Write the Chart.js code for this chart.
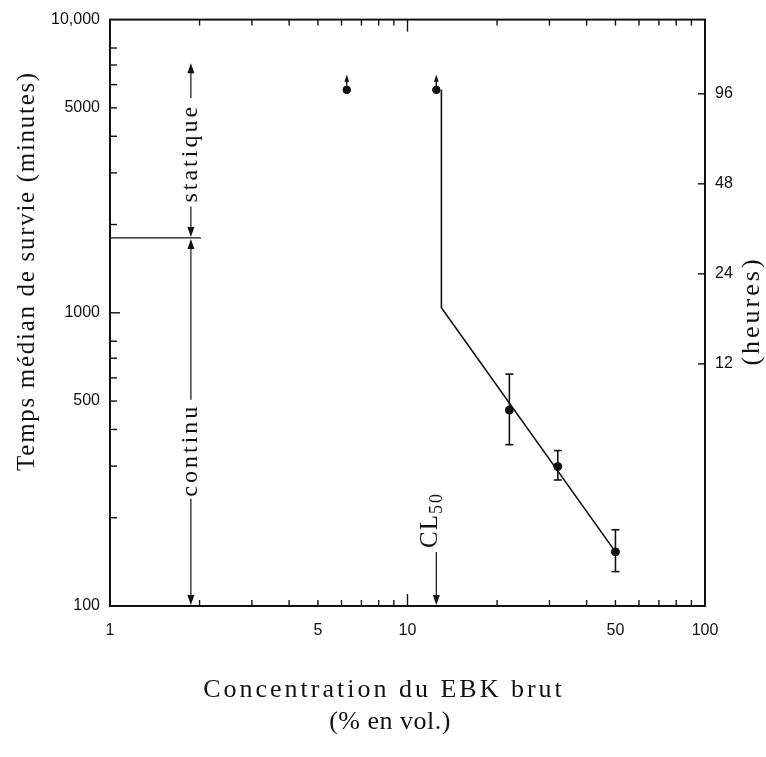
<!DOCTYPE html>
<html>
<head>
<meta charset="utf-8">
<script src="https://cdn.jsdelivr.net/npm/chart.js@4.4.1/dist/chart.umd.min.js"></script>
<style>
  html, body { margin: 0; padding: 0; background: #fff; }
</style>
</head>
<body>
<canvas id="ebkChart" width="766" height="757"></canvas>
<script>
// median survival time (minutes) vs concentration of crude EBK (% vol.)
const concentrations = [22, 32, 50];
const medianMinutes = [466, 299, 153];
const lowerMinutes = [355, 269, 131];
const upperMinutes = [618, 339, 182];

// fish still alive at the end of the test (> 96 h)
const survivorConc = [6.25, 12.5];
const survivorMinutes = [5760, 5760];

// fitted line
const fitConc = [13, 13, 50];
const fitMinutes = [5760, 1040, 153];

// tick labels
const xTickValues = [1, 5, 10, 50, 100];
const yTickValues = [100, 500, 1000, 5000, 10000];
const hourTickValues = [96, 48, 24, 12];
const hourMin = 1.86, hourMax = 170;

// annotations (data units)
const cl50 = 12.5;
const cl50LabelMinutes = 195;
const switchMinutes = 1800;      // static -> continuous (30 h)
const switchConc = 1.87;
const switchLineEnd = 2.02;
const staticTopMinutes = 7100;
const staticLabelMinutes = 3500;
const continuLabelMinutes = 340;

const INK = '#111';
const SERIF = '"Liberation Serif", "Times New Roman", serif';
const tickFont = { family: '"Liberation Sans", Arial, sans-serif', size: 16 };

function vText(ctx, str, cx, cy, size, spacing) {
    ctx.save();
    ctx.translate(cx, cy);
    ctx.rotate(-Math.PI / 2);
    ctx.font = size + 'px ' + SERIF;
    ctx.letterSpacing = spacing + 'px';
    ctx.textAlign = 'center';
    ctx.textBaseline = 'middle';
    ctx.fillText(str, 0, 0);
    const w = ctx.measureText(str).width;
    ctx.restore();
    return w;
}

function hText(ctx, str, cx, cy, size, spacing) {
    ctx.save();
    ctx.font = size + 'px ' + SERIF;
    ctx.letterSpacing = spacing + 'px';
    ctx.textAlign = 'center';
    ctx.textBaseline = 'middle';
    ctx.fillText(str, cx, cy);
    ctx.restore();
}

function arrowHead(ctx, x, y, dir, len, half) {
    // dir 1 = pointing down, -1 = pointing up
    len = len || 10; half = half || 3.5;
    ctx.beginPath();
    ctx.moveTo(x, y);
    ctx.lineTo(x - half, y - dir * len);
    ctx.lineTo(x + half, y - dir * len);
    ctx.closePath();
    ctx.fill();
}

function line(ctx, x1, y1, x2, y2) {
    ctx.beginPath();
    ctx.moveTo(x1, y1);
    ctx.lineTo(x2, y2);
    ctx.stroke();
}

const figurePlugin = {
    id: 'figure',
    afterDatasetsDraw(chart) {
        const ctx = chart.ctx;
        const area = chart.chartArea;
        const xs = chart.scales.x, ys = chart.scales.y, hs = chart.scales.yh;
        const X = v => xs.getPixelForValue(v);
        const Y = v => ys.getPixelForValue(v);

        ctx.save();
        ctx.strokeStyle = INK;
        ctx.fillStyle = INK;

        // frame
        ctx.lineWidth = 2;
        ctx.strokeRect(area.left, area.top, area.right - area.left, area.bottom - area.top);

        // inward ticks
        ctx.lineWidth = 1.4;
        [1, 10].forEach(d => {
            for (let m = 1; m <= 9; m++) {
                const v = m * d;
                if (v <= 1 || v >= 100) continue;
                const px = X(v);
                const len = m === 1 ? 12 : 6;
                line(ctx, px, area.bottom, px, area.bottom - len);
                line(ctx, px, area.top, px, area.top + len);
            }
        });
        [100, 1000].forEach(d => {
            for (let m = 1; m <= 8; m++) {
                const v = m * d;
                if (v <= 100 || v >= 10000) continue;
                const py = Y(v);
                line(ctx, area.left, py, area.left + (m === 1 ? 10 : 7), py);
            }
        });
        hourTickValues.forEach(h => {
            const py = hs.getPixelForValue(h);
            line(ctx, area.right, py, area.right - 7, py);
        });

        // error bars
        ctx.lineWidth = 1.6;
        concentrations.forEach((c, i) => {
            const px = X(c), lo = Y(lowerMinutes[i]), hi = Y(upperMinutes[i]);
            line(ctx, px, lo, px, hi);
            line(ctx, px - 4, lo, px + 4, lo);
            line(ctx, px - 4, hi, px + 4, hi);
        });

        // survivors: small up arrows
        ctx.lineWidth = 1.4;
        survivorConc.forEach((c, i) => {
            const px = X(c), py = Y(survivorMinutes[i]);
            line(ctx, px, py - 4, px, py - 9);
            arrowHead(ctx, px, py - 15, -1, 7, 2.4);
        });

        // statique / continu regime
        ctx.lineWidth = 1.2;
        const sx = X(switchConc), sy = Y(switchMinutes);
        line(ctx, area.left, sy, X(switchLineEnd), sy);

        const stY = Y(staticLabelMinutes);
        const stW = vText(ctx, 'statique', sx, stY, 24, 3);
        line(ctx, sx, Y(staticTopMinutes) + 8, sx, stY - stW / 2 - 6);
        line(ctx, sx, stY + stW / 2 + 4, sx, sy - 8);
        arrowHead(ctx, sx, Y(staticTopMinutes), -1);
        arrowHead(ctx, sx, sy - 1, 1);

        const coY = Y(continuLabelMinutes);
        const coW = vText(ctx, 'continu', sx, coY, 24, 3);
        line(ctx, sx, sy + 8, sx, coY - coW / 2 - 4);
        line(ctx, sx, coY + coW / 2 + 2, sx, area.bottom - 8);
        arrowHead(ctx, sx, sy + 1, -1);
        arrowHead(ctx, sx, area.bottom - 1, 1);

        // CL50
        const cx = X(cl50), cy = Y(cl50LabelMinutes);
        ctx.save();
        ctx.translate(cx - 8, cy);
        ctx.rotate(-Math.PI / 2);
        ctx.textBaseline = 'alphabetic';
        ctx.textAlign = 'left';
        ctx.font = '25px ' + SERIF;
        ctx.letterSpacing = '1px';
        const wCL = ctx.measureText('CL').width;
        ctx.font = '18px ' + SERIF;
        const w50 = ctx.measureText('50').width;
        const start = -(wCL + w50) / 2;
        ctx.font = '25px ' + SERIF;
        ctx.fillText('CL', start, 9);
        ctx.font = '18px ' + SERIF;
        ctx.letterSpacing = '2px';
        ctx.fillText('50', start + wCL, 14);
        ctx.restore();
        line(ctx, cx, cy + (wCL + w50) / 2 + 4, cx, area.bottom - 8);
        arrowHead(ctx, cx, area.bottom - 1, 1);

        // axis titles
        vText(ctx, 'Temps médian de survie (minutes)', 27, 271, 25, 1.7);
        vText(ctx, '(heures)', 752, 311, 26, 3);
        hText(ctx, 'Concentration du EBK brut', 384, 690, 26, 3);
        hText(ctx, '(% en vol.)', 390, 722, 26, 0.5);

        ctx.restore();
    }
};

const ctx = document.getElementById('ebkChart').getContext('2d');
new Chart(ctx, {
    type: 'scatter',
    data: {
        datasets: [
            {
                label: 'Ajustement',
                data: fitConc.map((c, i) => ({ x: c, y: fitMinutes[i] })),
                showLine: true,
                borderColor: INK,
                borderWidth: 1.6,
                pointRadius: 0,
                fill: false
            },
            {
                label: 'Temps médian',
                data: concentrations.map((c, i) => ({ x: c, y: medianMinutes[i] })),
                pointRadius: 4,
                backgroundColor: INK,
                borderColor: INK
            },
            {
                label: 'Survie > 96 h',
                data: survivorConc.map((c, i) => ({ x: c, y: survivorMinutes[i] })),
                pointRadius: 3.8,
                backgroundColor: INK,
                borderColor: INK
            }
        ]
    },
    options: {
        responsive: false,
        animation: false,
        layout: { padding: { top: 14, left: 0, right: 0, bottom: 0 } },
        plugins: {
            legend: { display: false },
            tooltip: { enabled: false }
        },
        scales: {
            x: {
                type: 'logarithmic',
                position: 'bottom',
                min: 1,
                max: 100,
                afterBuildTicks: s => { s.ticks = xTickValues.map(v => ({ value: v })); },
                afterFit: s => { s.height = 151; },
                grid: { display: false, drawTicks: false },
                border: { display: false },
                ticks: { font: tickFont, color: INK, padding: 15, maxRotation: 0, autoSkip: false, callback: v => String(v) }
            },
            y: {
                type: 'logarithmic',
                position: 'left',
                min: 100,
                max: 10000,
                afterBuildTicks: s => { s.ticks = yTickValues.map(v => ({ value: v })); },
                afterFit: s => { s.width = 110; },
                grid: { display: false, drawTicks: false },
                border: { display: false },
                ticks: { font: tickFont, color: INK, padding: 10, autoSkip: false, callback: v => v === 10000 ? '10,000' : String(v) }
            },
            yh: {
                type: 'logarithmic',
                position: 'right',
                min: hourMin,
                max: hourMax,
                afterBuildTicks: s => { s.ticks = hourTickValues.map(v => ({ value: v })); },
                afterFit: s => { s.width = 61; },
                grid: { display: false, drawTicks: false },
                border: { display: false },
                ticks: { font: tickFont, color: INK, padding: 10, autoSkip: false, callback: v => String(v) }
            }
        }
    },
    plugins: [figurePlugin]
});
</script>
</body>
</html>
